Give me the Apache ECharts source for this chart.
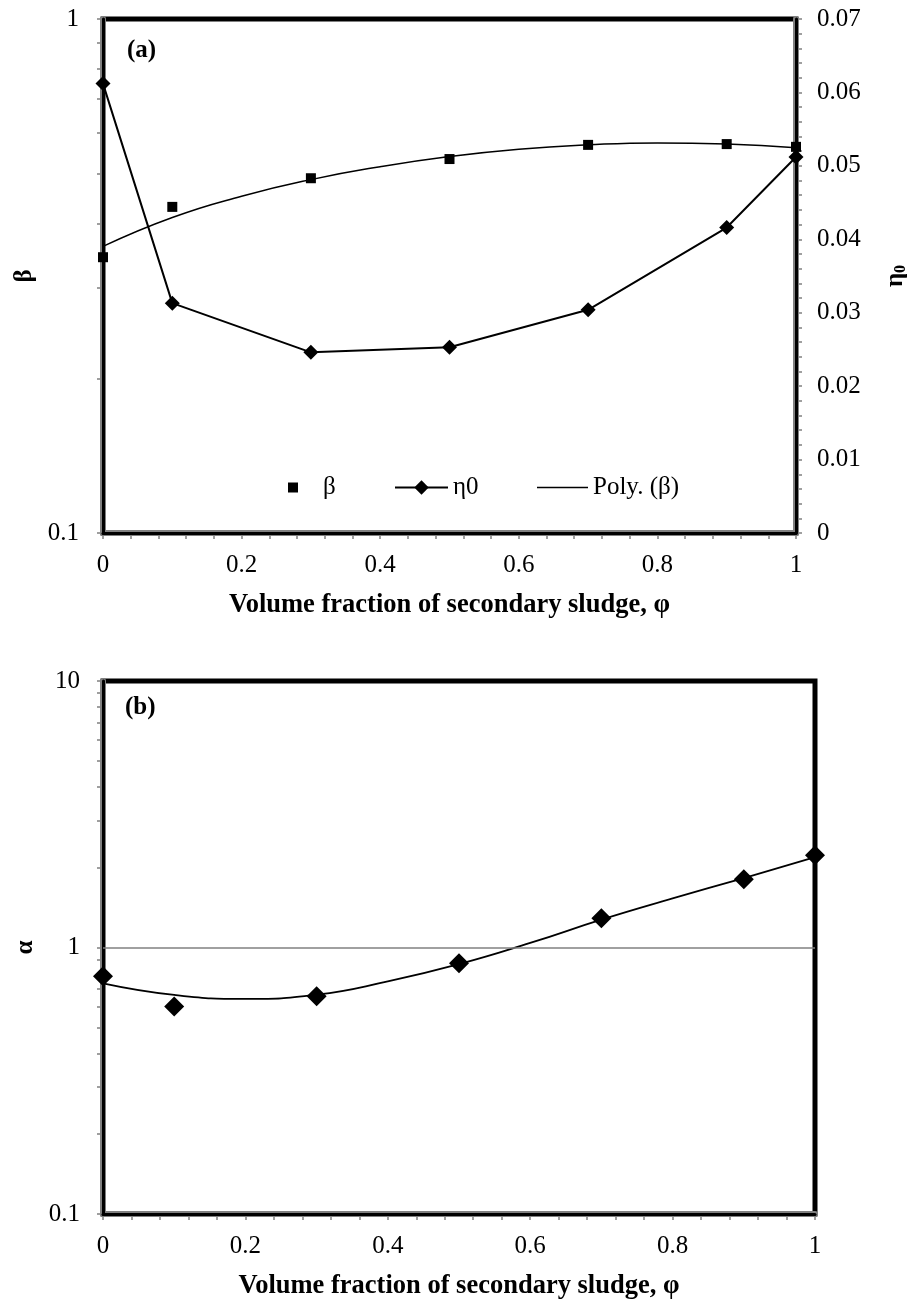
<!DOCTYPE html>
<html><head><meta charset="utf-8">
<script src="https://cdn.jsdelivr.net/npm/echarts@6/dist/echarts.min.js"></script>
<style>html,body{margin:0;padding:0;background:#fff}#c{width:909px;height:1304px}</style>
</head><body><div id="c"></div>
<script>
// ---- data ----
const phi = [0, 0.1, 0.3, 0.5, 0.7, 0.9, 1];
const betaVals = [0.344, 0.431, 0.490, 0.534, 0.569, 0.571, 0.564];
const eta0Vals = [0.0612, 0.0313, 0.0246, 0.0253, 0.0304, 0.0416, 0.0512];
const polyPhi = [0, 0.1, 0.2, 0.3, 0.4, 0.5, 0.6, 0.7, 0.8, 0.9, 1];
const polyBetaVals = [0.361, 0.411, 0.452, 0.487, 0.516, 0.540, 0.558, 0.569, 0.574, 0.571, 0.562];
const alphaVals = [0.780, 0.600, 0.656, 0.873, 1.288, 1.805, 2.22];
const polyAlphaVals = [0.734, 0.664, 0.641, 0.665, 0.746, 0.866, 1.04, 1.272, 1.528, 1.822, 2.183];
const refLineAlpha = [1];
const logTicksA = [0.1, 0.2, 0.3, 0.4, 0.5, 0.6, 0.7, 0.8, 0.9, 1];
const logLabelsA = [0.1, 1];
const logTicksB = [0.1, 0.2, 0.3, 0.4, 0.5, 0.6, 0.7, 0.8, 0.9, 1, 2, 3, 4, 5, 6, 7, 8, 9, 10];
const logLabelsB = [0.1, 1, 10];
const xTitle = 'Volume fraction of secondary sludge, \u03c6';

// ---- styling ----
const FONT = 'Liberation Serif';
const GRAY = '#808080';
const pairs = (xs, ys) => xs.map((x, i) => [x, ys[i]]);
const labelStyle = { color: '#000', fontFamily: FONT, fontSize: 25 };
const tick = { show: true, inside: false, length: 6, lineStyle: { color: GRAY, width: 1.5 } };
const minor = { show: true, splitNumber: 5, length: 6, lineStyle: { color: GRAY, width: 1.5 } };
const mainLine = { show: true, onZero: false, lineStyle: { color: GRAY, width: 6 } };

function overlay(base) {
  return {
    gridIndex: base.gridIndex, type: base.type, min: base.min, max: base.max,
    position: base.position, z: 2, silent: true,
    axisLine: { show: true, onZero: false, lineStyle: { color: '#000', width: 3 } },
    axisTick: { show: false }, axisLabel: { show: false }, splitLine: { show: false },
    minorTick: { show: false }
  };
}

const xA = {
  gridIndex: 0, type: 'value', min: 0, max: 1, interval: 0.2, position: 'bottom', z: 1,
  axisLine: mainLine, axisTick: tick, minorTick: minor, splitLine: { show: false },
  axisLabel: Object.assign({ margin: 20 }, labelStyle),
  name: xTitle, nameLocation: 'middle', nameGap: 59,
  nameTextStyle: { color: '#000', fontFamily: FONT, fontSize: 26.5, fontWeight: 'bold' }
};
const xB = Object.assign({}, xA, { gridIndex: 1 });

const yAL = {
  gridIndex: 0, type: 'log', logBase: 10, min: 0.1, max: 1, position: 'left', z: 1,
  axisLine: mainLine,
  axisTick: Object.assign({ customValues: logTicksA }, tick),
  axisLabel: Object.assign({ margin: 24, customValues: logLabelsA }, labelStyle),
  splitLine: { show: false }, minorTick: { show: false },
  name: '\u03b2', nameLocation: 'middle', nameRotate: 90, nameGap: 64,
  nameTextStyle: { color: '#000', fontFamily: FONT, fontSize: 25, fontWeight: 'bold' }
};
const yAR = {
  gridIndex: 0, type: 'value', min: 0, max: 0.07, interval: 0.01, position: 'right', z: 1,
  axisLine: mainLine, axisTick: tick, minorTick: minor, splitLine: { show: false },
  axisLabel: Object.assign({ margin: 21 }, labelStyle),
  name: '{a|\u03b7}{b|0}', nameLocation: 'middle', nameRotate: 90, nameGap: 87,
  nameTextStyle: {
    color: '#000',
    rich: {
      a: { fontFamily: FONT, fontSize: 25, fontWeight: 'bold', color: '#000' },
      b: { fontFamily: FONT, fontSize: 16, fontWeight: 'bold', color: '#000', padding: [10, 0, 0, 0] }
    }
  }
};
const yBL = {
  gridIndex: 1, type: 'log', logBase: 10, min: 0.1, max: 10, position: 'left', z: 1,
  axisLine: mainLine,
  axisTick: Object.assign({ customValues: logTicksB }, tick),
  axisLabel: Object.assign({ margin: 23, customValues: logLabelsB }, labelStyle),
  splitLine: { show: false }, minorTick: { show: false },
  name: '\u03b1', nameLocation: 'middle', nameRotate: 90, nameGap: 64,
  nameTextStyle: { color: '#000', fontFamily: FONT, fontSize: 25, fontWeight: 'bold' }
};

const chart = echarts.init(document.getElementById('c'), null, { renderer: 'canvas' });
chart.setOption({
  animation: false,
  backgroundColor: '#fff',
  title: [
    { text: '(a)', left: 127, top: 38, padding: 0, textStyle: { fontFamily: FONT, fontSize: 25, fontWeight: 'bold', color: '#000' } },
    { text: '(b)', left: 125, top: 695, padding: 0, textStyle: { fontFamily: FONT, fontSize: 25, fontWeight: 'bold', color: '#000' } }
  ],
  grid: [
    { left: 103, top: 19, width: 693, height: 514, show: true, borderColor: '#000', borderWidth: 5,
      backgroundColor: 'transparent', outerBoundsMode: 'none', containLabel: false },
    { left: 103, top: 681, width: 712, height: 533, show: true, borderColor: '#000', borderWidth: 5,
      backgroundColor: 'transparent', outerBoundsMode: 'none', containLabel: false }
  ],
  xAxis: [xA, overlay(xA), xB, overlay(xB)],
  yAxis: [yAL, overlay(yAL), yAR, overlay(yAR), yBL, overlay(yBL)],
  legend: [
    { data: ['\u03b2'], left: 288, top: 475, padding: 0, itemWidth: 10, itemHeight: 10, selectedMode: false,
      textStyle: Object.assign({ padding: [0, 0, 0, 20] }, labelStyle) },
    { data: ['\u03b70'], left: 394, top: 475, padding: 0, itemWidth: 53, itemHeight: 18, selectedMode: false,
      textStyle: labelStyle },
    { data: [{ name: 'Poly. (\u03b2)', icon: 'rect' }], left: 537, top: 475, padding: 0, itemWidth: 51, itemHeight: 1.6,
      selectedMode: false, textStyle: labelStyle }
  ],
  series: [
    { name: 'Poly. (\u03b2)', type: 'line', xAxisIndex: 0, yAxisIndex: 0, z: 3, smooth: true,
      symbol: 'none', lineStyle: { color: '#000', width: 1.5 }, itemStyle: { color: '#000' },
      data: pairs(polyPhi, polyBetaVals) },
    { name: '\u03b2', type: 'scatter', xAxisIndex: 0, yAxisIndex: 0, z: 4,
      symbol: 'rect', symbolSize: 10, itemStyle: { color: '#000', opacity: 1 },
      data: pairs(phi, betaVals) },
    { name: '\u03b70', type: 'line', xAxisIndex: 0, yAxisIndex: 2, z: 4,
      symbol: 'diamond', symbolSize: 15, lineStyle: { color: '#000', width: 2 }, itemStyle: { color: '#000', opacity: 1 },
      data: pairs(phi, eta0Vals) },
    { name: 'ref', type: 'scatter', xAxisIndex: 2, yAxisIndex: 4, z: 1, data: [],
      markLine: { silent: true, symbol: ['none', 'none'], label: { show: false },
        lineStyle: { color: GRAY, width: 1.5, type: 'solid' },
        data: refLineAlpha.map(v => ({ yAxis: v })) } },
    { name: 'Poly. (\u03b1)', type: 'line', xAxisIndex: 2, yAxisIndex: 4, z: 3, smooth: true,
      symbol: 'none', lineStyle: { color: '#000', width: 1.8 },
      data: pairs(polyPhi, polyAlphaVals) },
    { name: '\u03b1', type: 'scatter', xAxisIndex: 2, yAxisIndex: 4, z: 4,
      symbol: 'diamond', symbolSize: 20, itemStyle: { color: '#000', opacity: 1 },
      data: pairs(phi, alphaVals) }
  ]
});
</script></body></html>
